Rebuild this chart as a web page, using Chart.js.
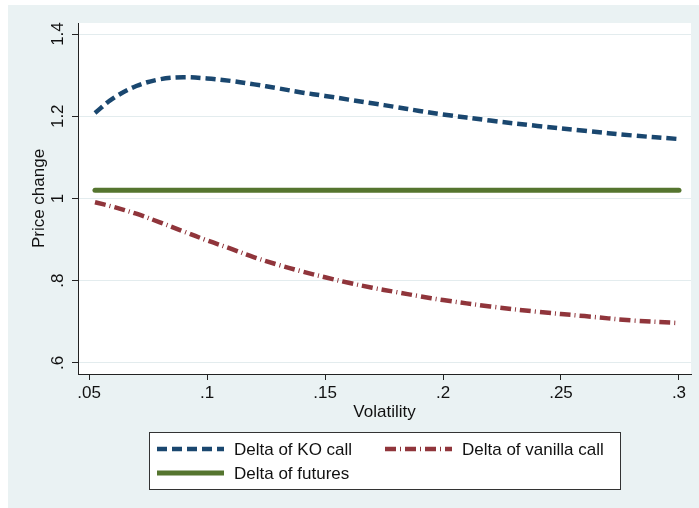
<!DOCTYPE html>
<html>
<head>
<meta charset="utf-8">
<script src="https://cdn.jsdelivr.net/npm/chart.js@4/dist/chart.umd.min.js"></script>
<style>
  html, body { margin: 0; padding: 0; background: #fff; }
  #wrap { width: 699px; height: 508px; }
</style>
</head>
<body>
<div id="wrap"><canvas id="grafico" width="699" height="508"></canvas></div>
<script>
// volatility grid and the three deltas
var volatilidade = [0.0525, 0.06, 0.07, 0.08, 0.09, 0.10, 0.11, 0.12, 0.13, 0.14, 0.15,
                    0.16, 0.17, 0.18, 0.19, 0.20, 0.22, 0.24, 0.26, 0.28, 0.30];
var deltaKO      = [1.208, 1.243, 1.2735, 1.290, 1.2948, 1.292, 1.286, 1.2775, 1.268, 1.258, 1.2495,
                    1.2405, 1.2315, 1.2225, 1.213, 1.2045, 1.1895, 1.1765, 1.1645, 1.1535, 1.1445];
var deltaVanilla = [0.991, 0.980, 0.963, 0.942, 0.920, 0.898, 0.878, 0.857, 0.839, 0.823, 0.8085,
                    0.795, 0.783, 0.7725, 0.7625, 0.753, 0.7375, 0.7245, 0.714, 0.7035, 0.697];
var deltaFutures = [1.02, 1.02, 1.02, 1.02, 1.02, 1.02, 1.02, 1.02, 1.02, 1.02, 1.02,
                    1.02, 1.02, 1.02, 1.02, 1.02, 1.02, 1.02, 1.02, 1.02, 1.02];

var ticksX = [0.05, 0.1, 0.15, 0.2, 0.25, 0.3];
var ticksY = [0.6, 0.8, 1.0, 1.2, 1.4];

var nomes = ["Delta of KO call", "Delta of vanilla call", "Delta of futures"];

var FONTE = '"Liberation Sans", Arial, sans-serif';
var COR_TEXTO = "#111";
var COR_EIXO = "#222";

function pontos(valores) {
    return volatilidade.map(function (v, i) { return { x: v, y: valores[i] }; });
}

// stata-style labels: drop the leading zero
function rotulo(v) {
    var s = String(Number(v.toFixed(2)));
    return s.replace(/^0\./, ".");
}

//*******PLUGIN: background, rotated y labels, axis titles, legend*******
var pluginMoldura = {
    id: "moldura",
    beforeDraw: function (chart) {
        var ctx = chart.ctx;
        var area = chart.chartArea;
        ctx.save();
        ctx.fillStyle = "#fff";
        ctx.fillRect(0, 0, chart.width, chart.height);
        ctx.fillStyle = "#eaf2f3";
        ctx.fillRect(8, 5, chart.width - 8, chart.height - 5);
        ctx.fillStyle = "#fff";
        ctx.fillRect(area.left, area.top, area.right - area.left, area.bottom - area.top);
        ctx.restore();
    },
    afterDraw: function (chart) {
        var ctx = chart.ctx;
        var area = chart.chartArea;
        var escalaY = chart.scales.y;

        ctx.save();
        ctx.fillStyle = COR_TEXTO;
        ctx.font = "17px " + FONTE;
        ctx.textAlign = "center";
        ctx.textBaseline = "alphabetic";

        // y tick labels, rotated
        ticksY.forEach(function (v) {
            var py = escalaY.getPixelForValue(v);
            ctx.save();
            ctx.translate(63, py);
            ctx.rotate(-Math.PI / 2);
            ctx.fillText(rotulo(v), 0, 0);
            ctx.restore();
        });

        // axis titles
        ctx.fillText("Volatility", (area.left + area.right) / 2, 417);
        ctx.save();
        ctx.translate(44, (area.top + area.bottom) / 2);
        ctx.rotate(-Math.PI / 2);
        ctx.fillText("Price change", 0, 0);
        ctx.restore();

        // legend box
        var caixa = { x: 149, y: 432, w: 471, h: 57 };
        ctx.fillStyle = "#fff";
        ctx.fillRect(caixa.x, caixa.y, caixa.w, caixa.h);
        ctx.strokeStyle = "#333";
        ctx.lineWidth = 1;
        ctx.strokeRect(caixa.x + 0.5, caixa.y + 0.5, caixa.w, caixa.h);

        var colunas = [157, 385];
        var linhas = [449, 473];
        chart.data.datasets.forEach(function (ds, i) {
            var x0 = colunas[i % 2];
            var y0 = linhas[Math.floor(i / 2)];
            ctx.save();
            ctx.strokeStyle = ds.borderColor;
            ctx.lineWidth = ds.borderWidth;
            ctx.lineCap = "butt";
            ctx.setLineDash(ds.borderDash || []);
            ctx.beginPath();
            ctx.moveTo(x0, y0);
            ctx.lineTo(x0 + 67, y0);
            ctx.stroke();
            ctx.restore();

            ctx.fillStyle = COR_TEXTO;
            ctx.textAlign = "left";
            ctx.fillText(ds.label, x0 + 77, y0 + 6);
        });
        ctx.restore();
    }
};

var options = {
    responsive: false,
    animation: false,
    devicePixelRatio: 1,
    layout: { padding: { top: 23, right: 8, left: 0, bottom: 0 } },
    plugins: {
        legend: { display: false },
        tooltip: { enabled: false }
    },
    elements: { point: { radius: 0 }, line: { tension: 0.35 } },
    scales: {
        x: {
            type: "linear",
            position: "bottom",
            min: 0.0453,
            max: 0.3051,
            afterBuildTicks: function (s) { s.ticks = ticksX.map(function (v) { return { value: v }; }); },
            afterFit: function (s) { s.height = 134; },
            grid: { drawOnChartArea: false, drawTicks: true, tickLength: 6, tickColor: COR_EIXO },
            border: { display: true, color: COR_EIXO, width: 1 },
            ticks: {
                padding: 3,
                color: COR_TEXTO,
                font: { family: FONTE, size: 17 },
                maxRotation: 0,
                callback: function (v) { return rotulo(v); }
            }
        },
        y: {
            type: "linear",
            min: 0.5732,
            max: 1.4268,
            afterBuildTicks: function (s) { s.ticks = ticksY.map(function (v) { return { value: v }; }); },
            afterFit: function (s) { s.width = 78; },
            grid: { color: "#e3ecee", lineWidth: 1, drawTicks: true, tickLength: 6, tickColor: COR_EIXO },
            border: { display: true, color: COR_EIXO, width: 1 },
            ticks: { display: false }
        }
    }
};

var grafico = new Chart(document.getElementById("grafico"), {
    type: "line",
    data: {
        datasets: [
            {
                label: nomes[0],
                data: pontos(deltaKO),
                borderColor: "#1a476f",
                borderWidth: 4.5,
                borderDash: [10, 5],
                fill: false
            },
            {
                label: nomes[1],
                data: pontos(deltaVanilla),
                borderColor: "#90353b",
                borderWidth: 4.5,
                borderDash: [11, 4, 1, 4],
                fill: false
            },
            {
                label: nomes[2],
                data: pontos(deltaFutures),
                borderColor: "#55752f",
                borderWidth: 5,
                borderCapStyle: "round",
                fill: false
            }
        ]
    },
    options: options,
    plugins: [pluginMoldura]
});
</script>
</body>
</html>
